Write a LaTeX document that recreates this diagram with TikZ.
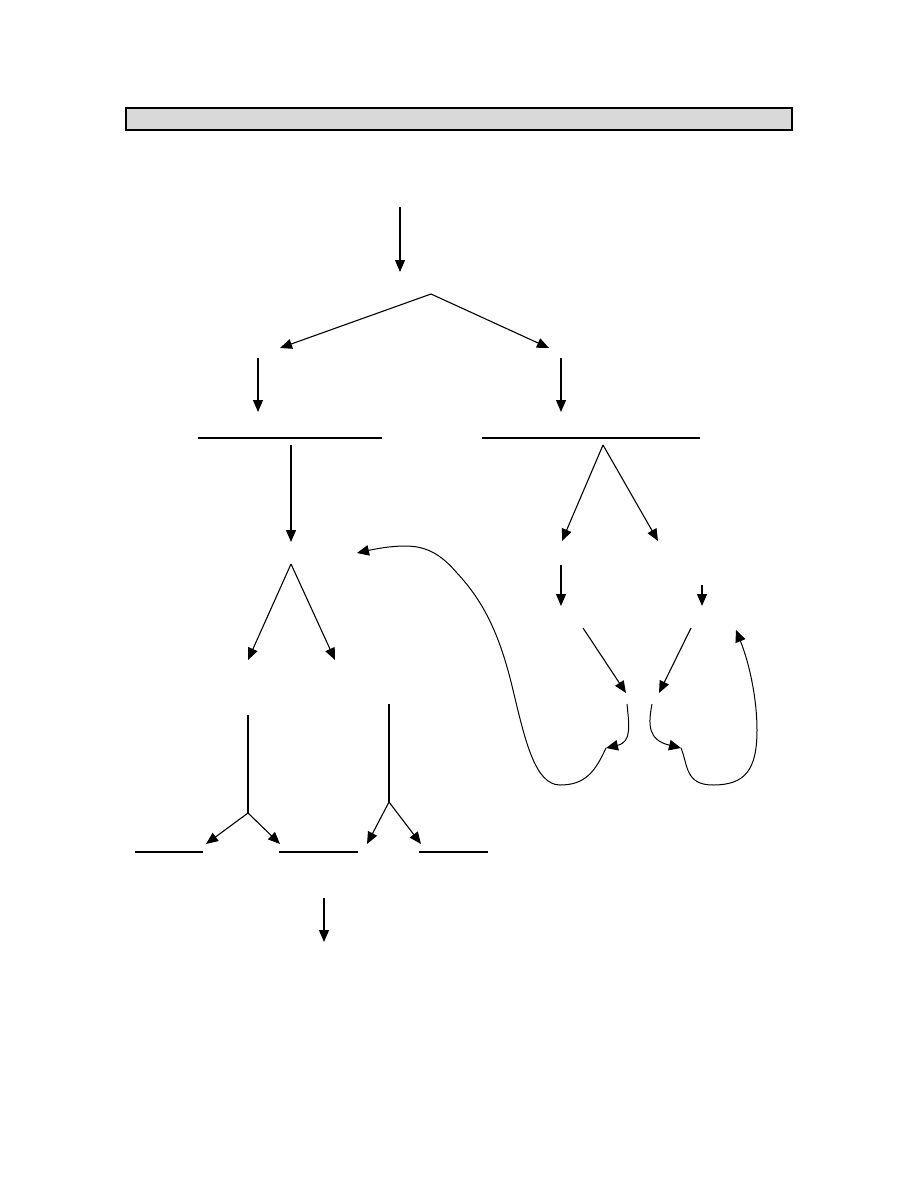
\documentclass[tikz,border=0pt]{standalone}
\usetikzlibrary{arrows.meta}
\begin{document}
\begin{tikzpicture}[x=1pt,y=-1pt,
  conn/.style={line width=1.1pt,-{Triangle[length=12pt,width=10pt]}},
  plain/.style={line width=1.1pt},
  curv/.style={line width=1pt,-{Triangle[length=12pt,width=10.5pt]}}]
\useasboundingbox (0,0) rectangle (918,1188);
% header bar
\draw[line width=1.2pt,fill={rgb,255:red,217;green,217;blue,217}] (126,108) rectangle (792,130);
% coordinates
\coordinate (t0) at (400,207);
\coordinate (t1) at (400,272);
\coordinate (ap) at (431,294);
\coordinate (fl) at (280,348);
\coordinate (fr) at (549,348);
\coordinate (lv0) at (258,358);
\coordinate (lv1) at (258,412);
\coordinate (rv0) at (561,358);
\coordinate (rv1) at (561,412);
\coordinate (ll0) at (198,438);
\coordinate (ll1) at (382,438);
\coordinate (rl0) at (482,438);
\coordinate (rl1) at (700,438);
\coordinate (ld0) at (291,445);
\coordinate (ld1) at (291,542);
\coordinate (la) at (291,564);
\coordinate (lal) at (248,660);
\coordinate (lar) at (335,660);
\coordinate (ra) at (603,445);
\coordinate (ral) at (562,541);
\coordinate (rar) at (658,541);
\coordinate (m0) at (561,565);
\coordinate (m1) at (561,606);
\coordinate (s0) at (702,585);
\coordinate (s1) at (702,606);
\coordinate (d10) at (583,628);
\coordinate (d11) at (626,693);
\coordinate (d20) at (691,628);
\coordinate (d21) at (659,693);
% hooks and curves
\coordinate (h1) at (627,704);
\coordinate (h1e) at (606,748);
\coordinate (h2) at (652,704);
\coordinate (h2e) at (681,748);
\coordinate (cl) at (357,553);
\coordinate (cr) at (736,630);
% bottom
\coordinate (b10) at (248,715);
\coordinate (b1) at (248,813);
\coordinate (b1l) at (206,844);
\coordinate (b1r) at (280,844);
\coordinate (b20) at (389,704);
\coordinate (b2) at (389,802);
\coordinate (b2l) at (367,844);
\coordinate (b2r) at (421,844);
\coordinate (u10) at (135,852);
\coordinate (u11) at (203,852);
\coordinate (u20) at (279,852);
\coordinate (u21) at (358,852);
\coordinate (u30) at (419,852);
\coordinate (u31) at (488,852);
\coordinate (e0) at (324,898);
\coordinate (e1) at (324,942);

\draw[conn] (t0) -- (t1);
\draw[conn] (ap) -- (fl);
\draw[conn] (ap) -- (fr);
\draw[conn] (lv0) -- (lv1);
\draw[conn] (rv0) -- (rv1);
\draw[plain] (ll0) -- (ll1);
\draw[plain] (rl0) -- (rl1);
\draw[conn] (ld0) -- (ld1);
\draw[conn] (la) -- (lal);
\draw[conn] (la) -- (lar);
\draw[conn] (ra) -- (ral);
\draw[conn] (ra) -- (rar);
\draw[conn] (m0) -- (m1);
\draw[conn] (s0) -- (s1);
\draw[conn] (d10) -- (d11);
\draw[conn] (d20) -- (d21);
% hooks
\draw[curv] (h1) .. controls (629,725) and (632,742) .. (h1e);
\draw[curv] (h2) .. controls (648,725) and (648,740) .. (h2e);
% big left curve
\draw[curv] (h1e) .. controls (595,772) and (585,785) .. (560,785)
  .. controls (535,785) and (525,740) .. (513,690)
  .. controls (500,635) and (484,602) .. (457,573)
  .. controls (440,553) and (425,546) .. (405,546)
  .. controls (390,546) and (375,549) .. (cl);
% big right curve
\draw[curv] (h2e) .. controls (688,765) and (685,785) .. (713,785)
  .. controls (745,785) and (757,770) .. (757,730)
  .. controls (757,700) and (750,665) .. (cr);
% bottom forks
\draw[plain] (b10) -- (b1);
\draw[conn] (b1) -- (b1l);
\draw[conn] (b1) -- (b1r);
\draw[plain] (b20) -- (b2);
\draw[conn] (b2) -- (b2l);
\draw[conn] (b2) -- (b2r);
\draw[plain] (u10) -- (u11);
\draw[plain] (u20) -- (u21);
\draw[plain] (u30) -- (u31);
\draw[conn] (e0) -- (e1);
\end{tikzpicture}
\end{document}
